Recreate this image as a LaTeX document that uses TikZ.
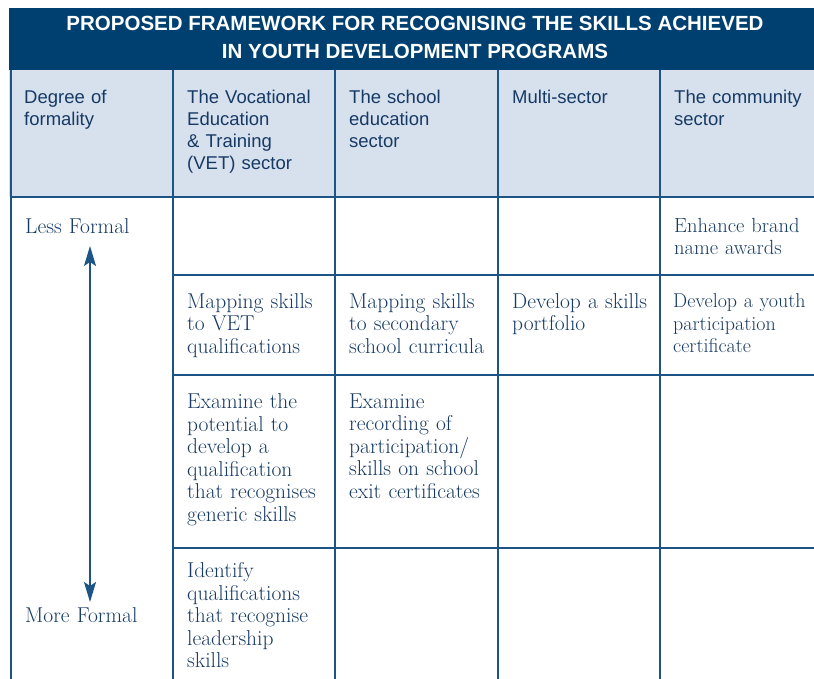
\documentclass[tikz,border=0pt]{standalone}
\usepackage{fontspec}
\setsansfont{Liberation Sans}
\usetikzlibrary{arrows.meta}

\definecolor{bandnavy}{RGB}{0,64,112}
\definecolor{gridblue}{RGB}{28,84,134}
\definecolor{headfill}{RGB}{215,225,238}
\definecolor{textblue}{RGB}{22,58,100}

\begin{document}
\begin{tikzpicture}[x=1pt, y=-1pt,
  cell/.style={anchor=north west, inner sep=0pt, text width=#1, align=left,
    text=textblue, font=\fontsize{21.5}{22.5}\selectfont},
  cell/.default=150pt,
  head/.style={anchor=north west, inner sep=0pt, text width=150pt, align=left,
    text=textblue, font=\sffamily\fontsize{18.5}{22}\selectfont},
  gridline/.style={draw=gridblue, line width=1.6pt},
  formality/.style={<->, >={Stealth[length=20pt,width=12pt,inset=4pt]},
    draw=gridblue, line width=1.6pt}]

\useasboundingbox (0,0) rectangle (814,678);

% title band and header row
\fill[bandnavy] (9,8) rectangle (830,70);
\fill[headfill] (9,70) rectangle (830,197);

\node[text=white, align=center, inner sep=0pt,
  font=\sffamily\bfseries\fontsize{20.5}{28}\selectfont] (title) at (415,37)
  {PROPOSED FRAMEWORK FOR RECOGNISING THE SKILLS ACHIEVED\\IN YOUTH DEVELOPMENT PROGRAMS};

% grid
\draw[gridline] (11,70) -- (11,690);
\foreach \x in {173,335,498,660}
  \draw[gridline] (\x,70) -- (\x,690);
\draw[gridline] (10,197) -- (830,197);
\foreach \y in {275,375,548}
  \draw[gridline] (173,\y) -- (830,\y);

% header texts
\node[head] (hdegree) at (24,90) {Degree of\\formality};
\node[head] (hvet)    at (187,90) {The Vocational\\Education\\\& Training\\(VET) sector};
\node[head] (hschool) at (349,90) {The school\\education\\sector};
\node[head] (hmulti)  at (512,90) {Multi-sector};
\node[head] (hcomm)   at (674,90) {The community\\sector};

% degree of formality
\node[cell] (less) at (25,218) {Less Formal};
\node[cell] (more) at (25,607.5) {More Formal};
\coordinate (lesstip) at (90,246);
\coordinate (moretip) at (90,602);
\draw[formality] (lesstip) -- (moretip);

% row 1
\node[cell, font=\fontsize{20.5}{22.5}\selectfont] (brand) at (674,218) {Enhance brand\\name awards};

% row 2
\node[cell] (mapvet)    at (187,293) {Mapping skills\\to VET\\qualifications};
\node[cell] (mapschool) at (349,293) {Mapping skills\\to secondary\\school curricula};
\node[cell] (portfolio) at (512,293) {Develop a skills\\portfolio};
\node[cell, font=\fontsize{20}{22.5}\selectfont] (youth) at (673,293.5) {Develop a youth\\participation\\certificate};

% row 3
\node[cell] (generic) at (187,393.5) {Examine the\\potential to\\develop a\\qualification\\that recognises\\generic skills};
\node[cell] (exit)    at (349,393.5) {Examine\\recording of\\participation/\\skills on school\\exit certificates};

% row 4
\node[cell] (leader) at (187,562.5) {Identify\\qualifications\\that recognise\\leadership\\skills};

\end{tikzpicture}
\end{document}
